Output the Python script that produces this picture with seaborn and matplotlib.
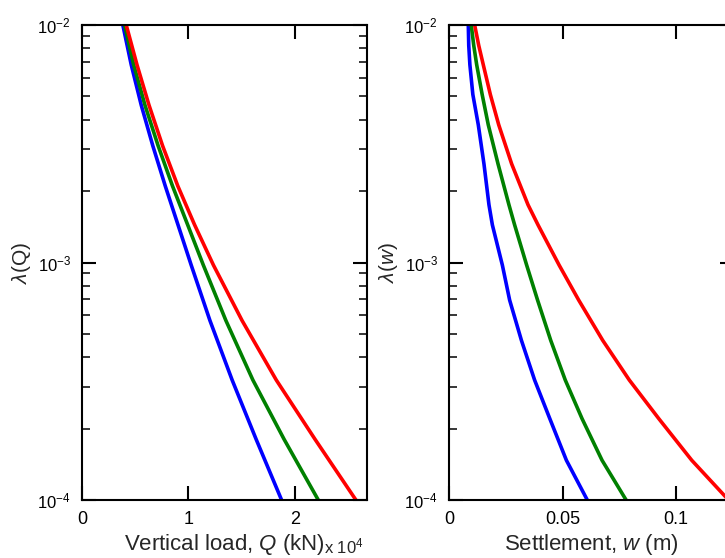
import seaborn as sns
import matplotlib.pyplot as plt
import numpy as np

# lambda levels (left panel, load in 10^4 kN)
lam_q = [1e-2, 6.8e-3, 4.6e-3, 3.1e-3, 2.1e-3, 1.44e-3, 9.75e-4, 5.7e-4, 3.2e-4, 1.8e-4, 1e-4]
q_blue = [0.384, 0.463, 0.557, 0.666, 0.783, 0.903, 1.027, 1.203, 1.412, 1.638, 1.877]
q_green = [0.400, 0.486, 0.592, 0.716, 0.851, 0.994, 1.141, 1.353, 1.607, 1.901, 2.222]
q_red = [0.416, 0.517, 0.630, 0.758, 0.901, 1.059, 1.236, 1.505, 1.827, 2.192, 2.576]

# right panel, settlement in m
lam_w = [1e-2, 8.2e-3, 6.8e-3, 5.1e-3, 3.8e-3, 2.6e-3, 1.75e-3, 1.44e-3, 9.75e-4,
         6.95e-4, 4.7e-4, 3.2e-4, 2.2e-4, 1.47e-4, 1e-4]
w_blue = [0.0085, 0.0087, 0.0092, 0.0105, 0.0129, 0.0154, 0.0176, 0.0191, 0.0235,
          0.0267, 0.0319, 0.0377, 0.0444, 0.0517, 0.0609]
w_green = [0.0098, 0.0109, 0.0122, 0.0146, 0.0173, 0.0216, 0.0264, 0.0289, 0.0342,
           0.0390, 0.0448, 0.0512, 0.0586, 0.0674, 0.0780]
w_red = [0.0113, 0.0131, 0.0151, 0.0182, 0.0219, 0.0276, 0.0348, 0.0392, 0.0485,
         0.0571, 0.0677, 0.0794, 0.0924, 0.1069, 0.1231]

colors = ["#0000ff", "#008000", "#ff0000"]

sns.set_theme(style="ticks")
plt.rcParams.update({
    "font.family": ["Liberation Sans", "DejaVu Sans"],
    "mathtext.fontset": "custom",
    "mathtext.rm": "Liberation Sans",
    "mathtext.it": "Liberation Sans:italic",
    "axes.linewidth": 1.5,
    "axes.edgecolor": "black",
    "xtick.labelsize": 13,
    "ytick.labelsize": 12,
})

fig = plt.figure(figsize=(7.25, 5.58), dpi=100)
ax1 = fig.add_axes([0.1131, 0.1039, 0.3931, 0.8513])
ax2 = fig.add_axes([0.6193, 0.1039, 0.3931, 0.8513])


def style_axis(ax, xlim, xticks, xticklabels):
    ax.set_yscale("log")
    ax.set_ylim(1e-4, 1e-2)
    ax.set_xlim(*xlim)
    ax.set_xticks(xticks)
    ax.set_xticklabels(xticklabels)
    ax.set_yticks([1e-4, 1e-3, 1e-2])
    ax.tick_params(which="major", direction="in", length=10, width=1.5,
                   top=True, right=True, colors="black", pad=8)
    ax.tick_params(which="minor", direction="in", length=6, width=1.3,
                   top=False, bottom=False, left=True, right=True)
    for s in ax.spines.values():
        s.set_visible(True)
        s.set_color("black")


for xs, c in zip([q_blue, q_green, q_red], colors):
    sns.lineplot(x=xs, y=lam_q, ax=ax1, color=c, linewidth=2.6, sort=False, estimator=None)
for xs, c in zip([w_blue, w_green, w_red], colors):
    sns.lineplot(x=xs, y=lam_w, ax=ax2, color=c, linewidth=2.6, sort=False, estimator=None)

style_axis(ax1, (0, 2.68), [0, 1, 2], ["0", "1", "2"])
style_axis(ax2, (0, 0.1255), [0, 0.05, 0.1], ["0", "0.05", "0.1"])

ax1.set_xlabel(r"Vertical load, $\mathit{Q}$ (kN)", fontsize=16, labelpad=3)
fig.text(0.447, 0.009, r"x 10$^4$", fontsize=12, ha="left", va="baseline")
ax2.set_xlabel(r"Settlement, $\mathit{w}$ (m)", fontsize=16, labelpad=3)
ax1.set_ylabel(r"$\lambda$(Q)", fontsize=15, labelpad=3)
ax2.set_ylabel(r"$\lambda$($\mathit{w}$)", fontsize=15, labelpad=3)

fig.savefig("out.png", dpi=100)
